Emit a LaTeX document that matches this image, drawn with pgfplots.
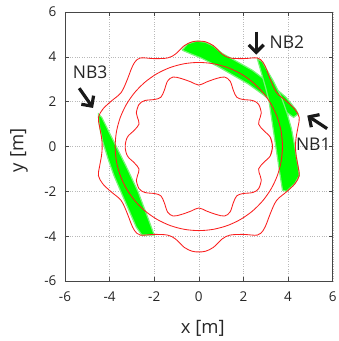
\documentclass[border=0pt]{standalone}
\usepackage{pgfplots}
\pgfplotsset{compat=1.18}
\usepackage{fontspec}
\setmainfont{Open Sans}
\usetikzlibrary{arrows.meta}
\definecolor{frame}{RGB}{70,70,70}
\definecolor{beam}{RGB}{0,255,0}
\definecolor{beamedge}{RGB}{120,245,120}
\definecolor{wall}{RGB}{250,30,30}
\begin{document}
\begin{tikzpicture}
\useasboundingbox (-65pt,-60pt) rectangle (274pt,281.3pt);
\begin{axis}[
  at={(0,0)}, anchor=south west,
  scale only axis, width=268pt, height=269.3pt,
  xmin=-6, xmax=6, ymin=-6, ymax=6,
  xtick={-6,-4,-2,0,2,4,6}, ytick={-6,-4,-2,0,2,4,6},
  xticklabels={-6,-4,-2,0,2,4,6}, yticklabels={-6,-4,-2,0,2,4,6},
  grid=major, grid style={dotted, gray!55},
  axis line style={frame, line width=0.8pt},
  tick style={frame, line width=0.6pt},
  tick align=inside, major tick length=4pt,
  ticklabel style={font=\fontsize{13.5}{13.5}\selectfont, text=black!85},
  xticklabel style={yshift=-7pt},
  yticklabel style={xshift=-5pt},
  xlabel={x [m]}, ylabel={y [m]},
  label style={font=\fontsize{18.5}{18.5}\selectfont, text=black!85},
  x label style={at={(axis description cs:0.515,-0.175)}, anchor=center},
  y label style={at={(axis description cs:-0.172,0.486)}, anchor=center},
  clip=false,
]
% beam bands
\addplot[fill=beam, draw=beamedge, line width=1.2pt] coordinates {
 (-0.75,4.3) (-0.5,4.58) (-0.1,4.7) (0.3,4.65) (0.65,4.48) (1.05,4.15) (1.6,3.85) (2.4,3.4) (3.2,2.8) (3.9,2.2) (4.35,1.65) (4.45,1.45)
 (4.25,1.3) (3.6,1.75) (2.9,2.3) (2.2,2.8) (1.5,3.2) (0.8,3.6) (0.1,3.95) (-0.4,4.15) (-0.75,4.3)};
\addplot[fill=beam, draw=beamedge, line width=1.2pt] coordinates {
 (2.62,3.92) (2.8,3.3) (3.0,2.6) (3.15,2.0) (3.3,1.0) (3.45,0) (3.6,-1.0) (3.75,-1.95)
 (3.93,-2.0) (4.3,-1.65) (4.5,-1.3)
 (4.45,-0.9) (4.36,-0.4) (4.3,0) (4.15,0.8) (3.95,1.5) (3.7,2.2) (3.35,2.9) (3.0,3.5) (2.85,3.78) (2.62,3.92)};
\addplot[fill=beam, draw=beamedge, line width=1.2pt] coordinates {
 (-4.5,1.35) (-4.45,0.9) (-4.3,0.2) (-4.05,-0.6) (-3.8,-1.3) (-3.5,-2.0) (-3.15,-2.8) (-2.8,-3.6) (-2.55,-3.95)
 (-2.0,-3.95)
 (-2.2,-3.4) (-2.73,-2.0) (-3.2,-1.0) (-3.7,0) (-4.05,0.7) (-4.35,1.3) (-4.5,1.45) (-4.5,1.35)};
% outer boundary
\addplot[wall, line width=0.85pt, smooth, tension=0.55] coordinates {
 (4.36,-0.4)
 (4.33,0) (4.36,0.4) (4.45,0.9) (4.5,1.3) (4.3,1.67) (3.93,2.02) (3.48,2.41) (3.2,3.0) (3.05,3.4) (2.88,3.75) (2.62,3.95) (2.0,3.92) (1.4,3.95) (1.05,4.12) (0.65,4.5) (0.3,4.67)
 (0,4.7)
 (-0.3,4.67) (-0.65,4.5) (-1.05,4.12) (-1.4,3.95) (-2.0,3.92) (-2.62,3.95) (-2.88,3.75) (-3.05,3.4) (-3.2,3.0) (-3.48,2.41) (-3.93,2.02) (-4.3,1.67) (-4.5,1.3) (-4.45,0.9) (-4.36,0.4)
 (-4.33,0)
 (-4.36,-0.4) (-4.45,-0.9) (-4.5,-1.3) (-4.3,-1.67) (-3.93,-2.02) (-3.48,-2.41) (-3.2,-3.0) (-3.05,-3.4) (-2.88,-3.75) (-2.62,-3.95) (-2.0,-3.92) (-1.4,-3.95) (-1.05,-4.12) (-0.65,-4.5) (-0.3,-4.67)
 (0,-4.7)
 (0.3,-4.67) (0.65,-4.5) (1.05,-4.12) (1.4,-3.95) (2.0,-3.92) (2.62,-3.95) (2.88,-3.75) (3.05,-3.4) (3.2,-3.0) (3.48,-2.41) (3.93,-2.02) (4.3,-1.67) (4.5,-1.3) (4.45,-0.9) (4.36,-0.4)
 (4.33,0) (4.36,0.4)};
% circle
\addplot[wall, line width=0.85pt, smooth] coordinates {
 (3.693,-0.651)
 (3.75,0) (3.693,0.651) (3.524,1.283) (3.248,1.875) (2.873,2.410) (2.410,2.873) (1.875,3.248) (1.283,3.524) (0.651,3.693)
 (0,3.75) (-0.651,3.693) (-1.283,3.524) (-1.875,3.248) (-2.410,2.873) (-2.873,2.410) (-3.248,1.875) (-3.524,1.283) (-3.693,0.651)
 (-3.75,0) (-3.693,-0.651) (-3.524,-1.283) (-3.248,-1.875) (-2.873,-2.410) (-2.410,-2.873) (-1.875,-3.248) (-1.283,-3.524) (-0.651,-3.693)
 (0,-3.75) (0.651,-3.693) (1.283,-3.524) (1.875,-3.248) (2.410,-2.873) (2.873,-2.410) (3.248,-1.875) (3.524,-1.283) (3.693,-0.651)
 (3.75,0) (3.693,0.651)};
% inner boundary
\addplot[wall, line width=0.85pt, smooth, tension=0.55] coordinates {
 (3.2,-0.42)
 (3.3,0) (3.2,0.42) (2.9,0.72) (2.68,1.0) (2.75,1.3) (2.8,1.5) (2.68,1.88) (2.42,2.05) (1.97,2.1) (1.7,2.2) (1.55,2.5) (1.4,2.92) (1.15,3.1) (0.78,3.03) (0.35,2.88)
 (0,2.74)
 (-0.35,2.88) (-0.78,3.03) (-1.15,3.1) (-1.4,2.92) (-1.55,2.5) (-1.7,2.2) (-1.97,2.1) (-2.42,2.05) (-2.68,1.88) (-2.8,1.5) (-2.75,1.3) (-2.68,1.0) (-2.9,0.72) (-3.2,0.42)
 (-3.3,0)
 (-3.2,-0.42) (-2.9,-0.72) (-2.68,-1.0) (-2.75,-1.3) (-2.8,-1.5) (-2.68,-1.88) (-2.42,-2.05) (-1.97,-2.1) (-1.7,-2.2) (-1.55,-2.5) (-1.4,-2.92) (-1.15,-3.1) (-0.78,-3.03) (-0.35,-2.88)
 (0,-2.74)
 (0.35,-2.88) (0.78,-3.03) (1.15,-3.1) (1.4,-2.92) (1.55,-2.5) (1.7,-2.2) (1.97,-2.1) (2.42,-2.05) (2.68,-1.88) (2.8,-1.5) (2.75,-1.3) (2.68,-1.0) (2.9,-0.72) (3.2,-0.42)
 (3.3,0) (3.2,0.42)};
% annotations
\draw[-{Straight Barb[length=7.5pt,width=15pt]}, line width=3.2pt, black!90] (axis cs:2.57,5.12) -- (axis cs:2.57,4.1);
\draw[-{Straight Barb[length=7.5pt,width=15pt]}, line width=3.2pt, black!90] (axis cs:-5.36,2.6) -- (axis cs:-4.74,1.72);
\draw[-{Straight Barb[length=7.5pt,width=15pt]}, line width=3.2pt, black!90] (axis cs:5.75,0.8) -- (axis cs:4.86,1.38);
\node[font=\fontsize{17.5}{17.5}\selectfont, text=black!85] at (axis cs:3.95,4.67) {NB2};
\node[font=\fontsize{17.5}{17.5}\selectfont, text=black!85] at (axis cs:-4.87,3.3) {NB3};
\node[font=\fontsize{17.5}{17.5}\selectfont, text=black!85] at (axis cs:5.13,0.12) {NB1};
\end{axis}
\end{tikzpicture}
\end{document}
